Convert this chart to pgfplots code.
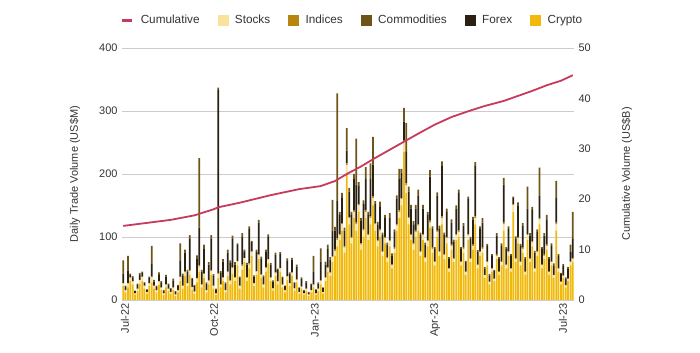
\documentclass[border=0pt]{standalone}
\usepackage{pgfplots}
\pgfplotsset{compat=1.18}
\usepackage{pgfplotstable}
\usepackage{fontspec}
\setmainfont{Liberation Sans}
\definecolor{cCrypto}{HTML}{F0B90B}
\definecolor{cStocks}{HTML}{F9E39A}
\definecolor{cIndices}{HTML}{B8860F}
\definecolor{cComm}{HTML}{6E5416}
\definecolor{cForex}{HTML}{2A2113}
\definecolor{cLine}{HTML}{C63A5C}
\definecolor{cText}{HTML}{333333}
\definecolor{cGrid}{HTML}{CCCCCC}

\pgfplotstableread{
x c s n f m
0 22 4 1 15 21
1 12 3 1 5 2
2 20 6 1 20 23
3 30 5 1 4 2
4 25 4 1 6 2
5 8 2 1 3 1
6 14 3 1 6 2
7 26 5 1 8 3
8 30 6 1 6 2
9 18 4 1 4 1
10 10 2 1 3 1
11 22 4 1 8 2
12 28 8 1 20 29
13 18 4 1 6 3
14 12 3 1 5 2
15 24 5 1 10 4
16 16 3 1 8 2
17 8 2 1 4 1
18 20 4 1 12 3
19 14 3 1 6 2
20 10 2 1 5 1
21 16 3 1 10 4
22 6 2 1 4 1
23 12 3 1 6 2
24 30 6 1 25 28
25 18 4 1 15 4
26 38 6 1 30 5
27 22 4 1 18 3
28 40 6 2 50 5
29 16 4 1 12 2
30 10 3 1 8 2
31 28 6 1 30 6
32 45 8 2 60 110
33 20 4 1 20 3
34 35 6 1 40 6
35 12 3 1 10 2
36 25 5 1 25 4
37 40 6 2 50 5
38 18 4 1 15 3
39 8 2 1 6 1
40 35 6 2 290 4
41 20 4 1 18 3
42 30 5 1 25 4
43 12 3 1 10 2
44 38 6 1 30 5
45 25 5 1 28 4
46 42 8 2 45 5
47 30 5 1 20 4
48 55 6 1 25 3
49 18 4 1 12 2
50 48 6 2 45 5
51 60 6 1 10 3
52 30 5 1 20 3
53 50 6 2 55 4
54 70 6 1 15 2
55 22 4 1 10 2
56 40 5 1 30 4
57 65 6 2 50 4
58 35 5 1 25 3
59 20 4 1 12 2
60 45 6 1 25 3
61 58 6 1 35 4
62 30 5 1 20 3
63 15 3 1 10 2
64 38 5 1 28 3
65 25 4 1 18 2
66 45 5 1 22 3
67 20 4 1 10 2
68 12 3 1 6 1
69 32 5 1 25 3
70 22 4 1 15 2
71 38 5 1 20 3
72 15 3 1 8 1
73 28 4 1 20 3
74 10 2 1 6 1
75 18 3 1 12 2
76 8 2 1 4 1
77 14 3 1 10 2
78 6 2 1 3 1
79 12 3 1 8 2
80 20 4 1 20 25
81 8 2 1 5 1
82 14 3 1 8 2
83 25 5 1 30 21
84 10 2 1 6 1
85 30 5 1 20 5
86 45 6 1 30 6
87 38 5 1 20 4
88 60 8 2 40 49
89 70 8 2 30 6
90 85 10 3 60 170
91 95 8 2 30 5
92 110 10 2 40 8
93 75 8 2 25 5
94 200 14 3 20 36
95 120 10 2 40 6
96 90 8 2 35 5
97 130 10 2 50 8
98 110 10 3 60 73
99 140 10 2 30 5
100 80 8 2 35 5
101 100 10 2 40 6
102 130 10 3 50 18
103 95 8 2 30 5
104 120 10 3 60 24
105 150 12 3 50 44
106 110 10 2 30 5
107 85 8 2 25 4
108 100 10 3 35 8
109 70 6 2 25 4
110 90 8 2 30 5
111 60 6 2 20 3
112 85 8 2 35 8
113 50 5 1 15 3
114 75 6 2 25 4
115 110 8 2 40 6
116 130 10 3 50 15
117 150 10 2 40 6
118 235 15 3 30 22
119 170 12 3 50 46
120 120 10 2 40 8
121 95 8 2 40 6
122 80 8 2 30 5
123 100 8 2 35 6
124 110 8 2 45 10
125 70 6 2 25 4
126 95 8 2 40 6
127 60 6 2 20 3
128 85 8 2 40 5
129 115 8 3 70 10
130 75 6 2 30 4
131 55 5 1 20 3
132 100 8 2 55 6
133 70 6 2 35 5
134 120 10 3 80 7
135 65 6 2 30 4
136 90 8 2 40 5
137 45 4 1 15 3
138 80 6 2 35 5
139 60 5 2 25 4
140 95 8 2 40 5
141 100 8 2 60 5
142 55 5 1 20 3
143 75 6 2 35 4
144 40 4 1 15 2
145 95 8 2 55 4
146 60 5 2 30 3
147 80 6 2 40 4
148 120 10 3 80 6
149 50 5 1 20 3
150 70 6 2 35 4
151 75 6 2 40 7
152 35 4 1 10 2
153 55 5 1 25 3
154 25 3 1 10 2
155 45 4 1 20 3
156 30 3 1 12 2
157 65 5 2 30 4
158 40 4 1 20 3
159 55 5 1 25 4
160 110 10 3 60 11
161 50 5 1 25 3
162 70 6 2 35 4
163 45 4 1 20 3
164 140 10 2 10 2
165 60 5 2 30 4
166 90 8 2 50 5
167 55 5 1 25 3
168 75 6 2 35 4
169 40 4 1 20 3
170 95 8 2 40 35
171 60 5 2 35 4
172 85 6 2 50 5
173 45 4 1 25 3
174 70 6 2 30 4
175 120 8 2 35 45
176 50 5 1 25 3
177 65 5 2 30 4
178 80 6 2 40 7
179 40 4 1 20 3
180 55 5 1 25 4
181 35 4 1 15 3
182 110 10 3 40 26
183 45 4 1 20 3
184 25 3 1 12 2
185 35 3 1 15 3
186 20 3 1 10 2
187 30 3 1 15 3
188 55 5 1 15 12
189 60 5 2 30 43
}\bars

\pgfplotstableread{
x v
0 14.7
10 15.3
20 15.9
30 16.8
38 18.0
40 18.4
49 19.3
62 20.8
74 22.0
83 22.6
89 23.6
94 25.0
100 26.5
106 28.2
112 29.8
118 31.4
124 33.0
131 34.8
138 36.3
146 37.6
152 38.5
160 39.5
166 40.5
172 41.5
178 42.6
184 43.5
189 44.6
}\cum

\begin{document}
\begin{tikzpicture}
\useasboundingbox (0,0) rectangle (700bp,353bp);
\pgfplotsset{
  base/.style={
    at={(122bp,53bp)}, anchor=south west,
    scale only axis, width=452bp, height=252bp,
    xmin=-0.5, xmax=189.5,
    font=\fontsize{11}{13}\selectfont,
    tick label style={font=\fontsize{11}{13}\selectfont, text=cText},
    label style={font=\fontsize{11}{13}\selectfont, text=cText},
    /pgf/number format/assume math mode=true,
    tick style={draw=none},
  }
}
\begin{axis}[base,
  ybar stacked, bar width=1.75bp,
  ymin=0, ymax=400, ytick={0,100,200,300,400},
  axis y line*=left, axis x line*=bottom,
  axis line style={draw=none},
  ymajorgrids, grid style={cGrid, line width=0.6bp},
  xtick={0.76,38.2,80.6,131.1,184.9},
  xticklabels={Jul-22,Oct-22,Jan-23,Apr-23,Jul-23},
  x tick label style={rotate=90, anchor=east},
  yticklabel style={xshift=-1bp},
  ylabel={Daily Trade Volume (US\$M)},
  ylabel style={at={(axis description cs:-0.104,0.5)}, anchor=center},
]
\addplot[fill=cCrypto, draw=none] table[x=x,y=c]{\bars};
\addplot[fill=cStocks, draw=none] table[x=x,y=s]{\bars};
\addplot[fill=cIndices, draw=none] table[x=x,y=n]{\bars};
\addplot[fill=cForex, draw=none] table[x=x,y=f]{\bars};
\addplot[fill=cComm, draw=none] table[x=x,y=m]{\bars};
\end{axis}
\begin{axis}[base,
  ymin=0, ymax=50, ytick={0,10,20,30,40,50},
  axis y line*=right, axis x line=none,
  axis line style={draw=none},
  ylabel={Cumulative Volume (US\$B)},
  ylabel style={at={(axis description cs:1.117,0.5)}, anchor=center, rotate=0},
  yticklabel style={xshift=1bp},
  legend style={at={(axis description cs:0.51,1.111)}, anchor=center,
    draw=none, fill=none, font=\fontsize{11.8}{13}\selectfont, text=cText,
    legend cell align=left,
    /tikz/every odd column/.append style={column sep=5bp},
    /tikz/every even column/.append style={column sep=16bp}},
  legend columns=-1,
]
\addplot[cLine, line width=1.8bp, forget plot] table[x=x,y=v]{\cum};
\addlegendimage{legend image code/.code={\draw[cLine, line width=3bp] (0bp,0bp) -- (10bp,0bp);}}
\addlegendentry{Cumulative}
\addlegendimage{legend image code/.code={\fill[cStocks] (0bp,-5bp) rectangle (10bp,5bp);}}
\addlegendentry{Stocks}
\addlegendimage{legend image code/.code={\fill[cIndices] (0bp,-5bp) rectangle (10bp,5bp);}}
\addlegendentry{Indices}
\addlegendimage{legend image code/.code={\fill[cComm] (0bp,-5bp) rectangle (10bp,5bp);}}
\addlegendentry{Commodities}
\addlegendimage{legend image code/.code={\fill[cForex] (0bp,-5bp) rectangle (10bp,5bp);}}
\addlegendentry{Forex}
\addlegendimage{legend image code/.code={\fill[cCrypto] (0bp,-5bp) rectangle (10bp,5bp);}}
\addlegendentry{Crypto}
\end{axis}
\end{tikzpicture}
\end{document}
